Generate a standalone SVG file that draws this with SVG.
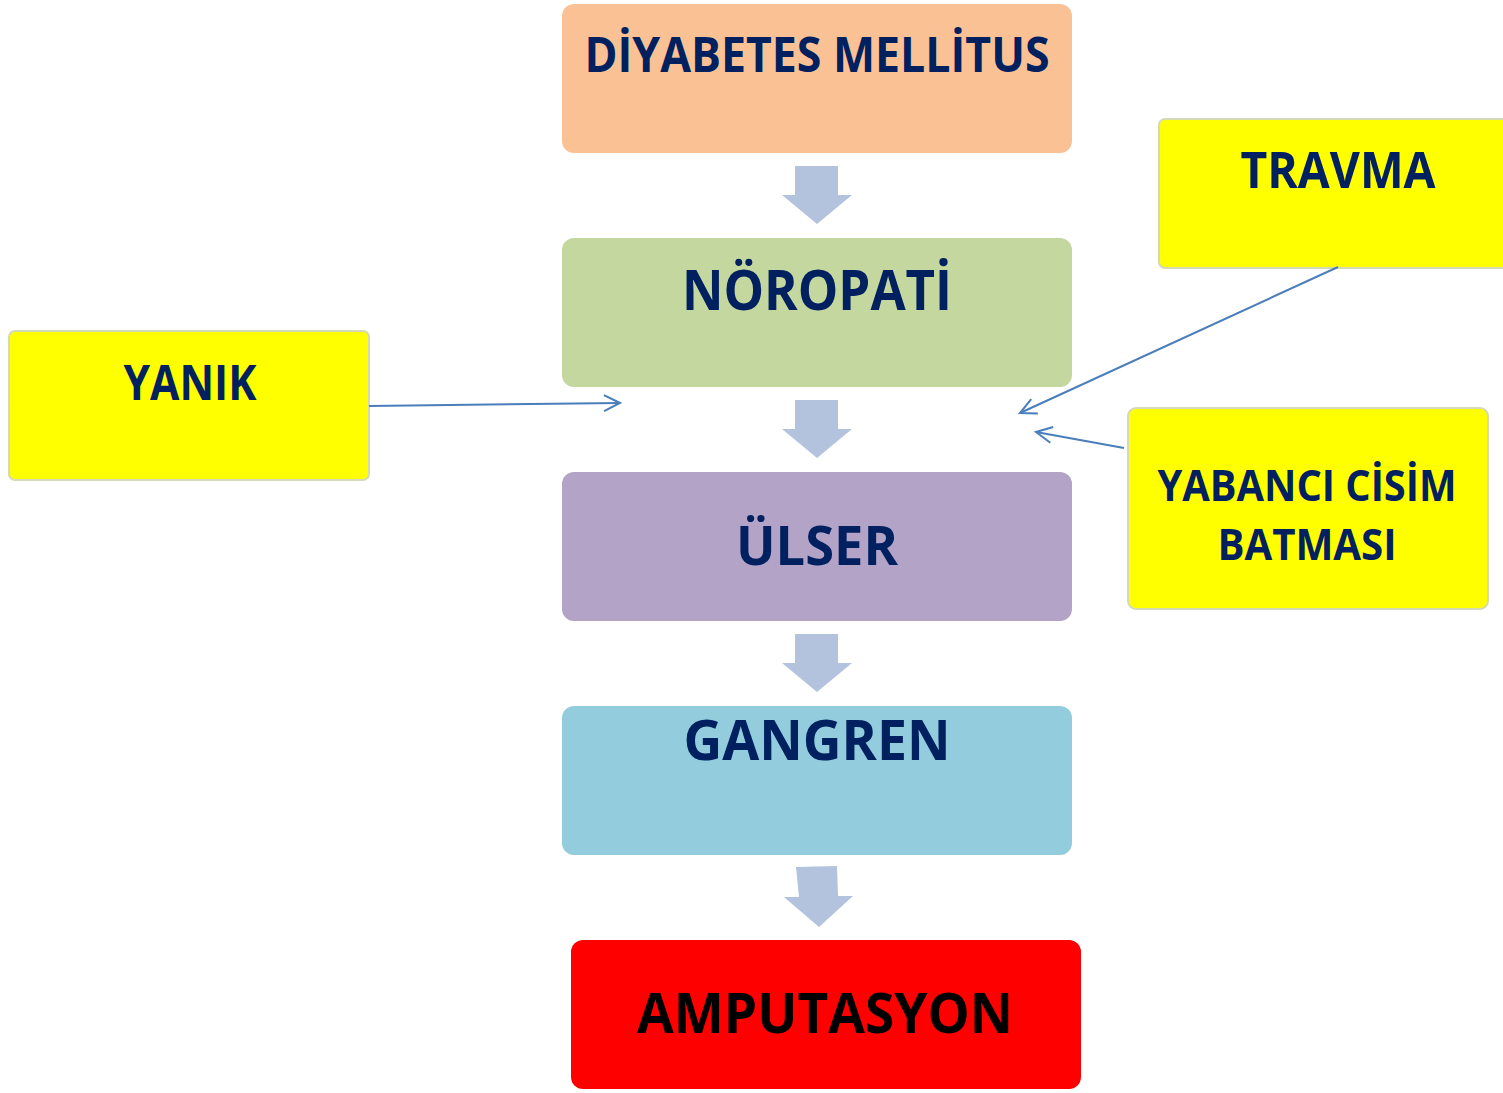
<svg xmlns="http://www.w3.org/2000/svg" width="1503" height="1093" viewBox="0 0 1503 1093">
<style>
.t{font-family:"Open Sans","Liberation Sans",sans-serif;font-weight:bold;fill:#002060;text-anchor:middle}
.y{fill:#FFFF00;stroke:#D3DAB5;stroke-width:2}
.ba{fill:#B3C3DE}
.c{stroke:#4A7EBB;stroke-width:2;fill:none}
</style>
<defs>
<marker id="oa" viewBox="0 0 20 20" refX="18" refY="10" markerWidth="20" markerHeight="20" markerUnits="userSpaceOnUse" orient="auto">
<path d="M2,2 L18,10 L2,18" fill="none" stroke="#4A7EBB" stroke-width="2"/>
</marker>
</defs>
<g id="dm"><rect x="562" y="4" width="510" height="149" rx="12" fill="#FAC195"/>
<text class="t" x="817" y="72" font-size="49" textLength="465" lengthAdjust="spacingAndGlyphs">DİYABETES MELLİTUS</text></g>
<g id="noropati"><rect x="562" y="238" width="510" height="149" rx="12" fill="#C4D79E"/>
<text class="t" x="817" y="310" font-size="56" textLength="270" lengthAdjust="spacingAndGlyphs">NÖROPATİ</text></g>
<g id="ulser"><rect x="562" y="472" width="510" height="149" rx="12" fill="#B2A3C7"/>
<text class="t" x="817" y="565" font-size="53" textLength="162" lengthAdjust="spacingAndGlyphs">ÜLSER</text></g>
<g id="gangren"><rect x="562" y="706" width="510" height="149" rx="12" fill="#93CDDD"/>
<text class="t" x="817" y="760" font-size="56" textLength="267" lengthAdjust="spacingAndGlyphs">GANGREN</text></g>
<g id="amputasyon"><rect x="571" y="940" width="510" height="149" rx="12" fill="#FF0000"/>
<text class="t" x="825" y="1033" font-size="55" style="fill:#000" textLength="376" lengthAdjust="spacingAndGlyphs">AMPUTASYON</text></g>
<g id="yanik"><rect class="y" x="9" y="331" width="360" height="149" rx="6"/>
<text class="t" x="190" y="400" font-size="49" textLength="133" lengthAdjust="spacingAndGlyphs">YANIK</text></g>
<g id="travma"><rect class="y" x="1159" y="119" width="350" height="149" rx="6"/>
<text class="t" x="1338" y="188" font-size="50" textLength="195" lengthAdjust="spacingAndGlyphs">TRAVMA</text></g>
<g id="yabanci"><rect class="y" x="1128" y="408" width="360" height="201" rx="8"/>
<text class="t" x="1307" y="501" font-size="43" textLength="299" lengthAdjust="spacingAndGlyphs">YABANCI CİSİM</text>
<text class="t" x="1307" y="560" font-size="43" textLength="179" lengthAdjust="spacingAndGlyphs">BATMASI</text></g>
<g id="connectors">
<path class="ba" d="M795,166 H838 V195 H852 L817,224 L782,195 H795 Z"/>
<path class="ba" d="M795,400 H838 V429 H852 L817,458 L782,429 H795 Z"/>
<path class="ba" d="M795,634 H838 V663 H852 L817,692 L782,663 H795 Z"/>
<path class="ba" d="M796,867 L837,866 L838,896 L853,896 L819,927 L784,897 L799,897 Z"/>
<line class="c" x1="369" y1="406" x2="620" y2="403" marker-end="url(#oa)"/>
<line class="c" x1="1338" y1="267" x2="1020" y2="413" marker-end="url(#oa)"/>
<line class="c" x1="1124" y1="448" x2="1036" y2="432" marker-end="url(#oa)"/>
</g>
</svg>
